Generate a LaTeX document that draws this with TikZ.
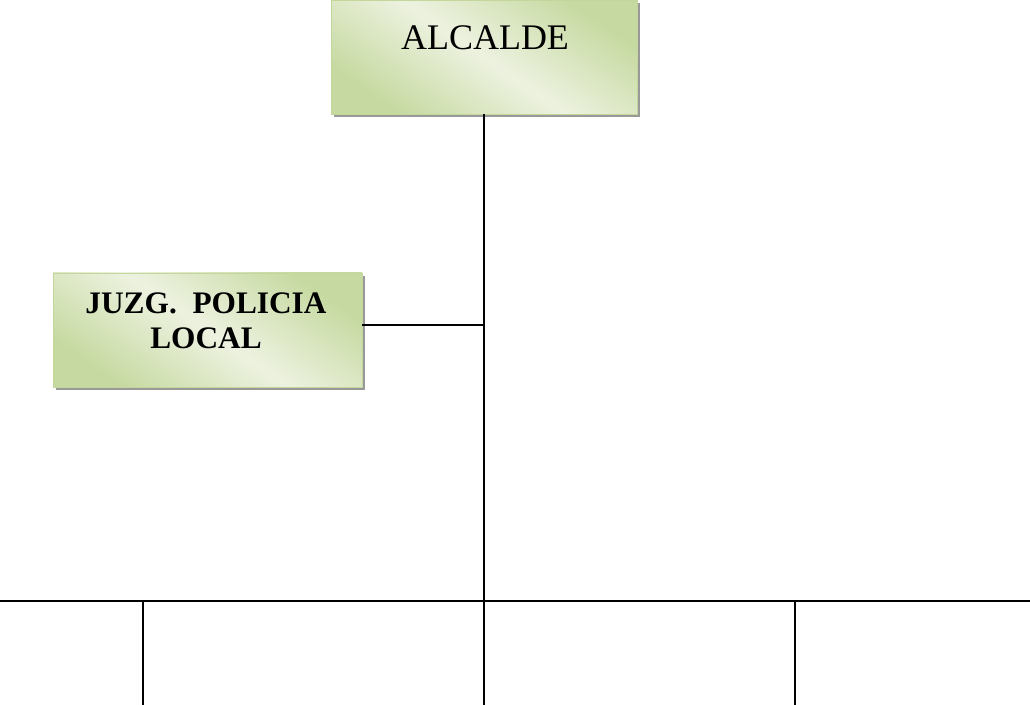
\documentclass[tikz,border=0pt]{standalone}
\usepackage{fontspec}
\setmainfont{Liberation Serif}
\usetikzlibrary{shadows}
\definecolor{olivedark}{HTML}{C6D9A0}
\definecolor{olivelight}{HTML}{EDF2E0}
\definecolor{oliveedge}{HTML}{C3D69B}
\tikzset{
  orgbox/.style={draw=oliveedge, line width=0.6pt, inner sep=0pt,
    left color=olivedark, right color=olivedark, middle color=olivelight,
    shading angle=-35,
    drop shadow={shadow xshift=2.2pt, shadow yshift=-2.2pt, fill=black!40, opacity=1}},
  conn/.style={line width=0.9pt, black},
}
\begin{document}
\begin{tikzpicture}[x=0.75pt,y=-0.75pt]
\useasboundingbox (0,0) rectangle (1030,705);
\node[orgbox, minimum width=229.5pt, minimum height=85.5pt] (alc) at (484,57) {};
\node[font=\fontsize{27}{31}\selectfont] (alct) at (485,38) {ALCALDE};
\node[orgbox, minimum width=231.75pt, minimum height=85.5pt] (juz) at (207.5,330) {};
\node[font=\fontsize{23.5}{26.5}\selectfont\bfseries, align=center] (juzt) at (206,321) {JUZG.\ \ POLICIA\\LOCAL};
\coordinate (mid) at (484,325);
\coordinate (hub) at (484,601);
\coordinate (hl) at (0,601);
\coordinate (hr) at (1030,601);
\coordinate (t1) at (143,601);
\coordinate (t3) at (795,601);
\coordinate (b1) at (143,705);
\coordinate (b2) at (484,705);
\coordinate (b3) at (795,705);
\draw[conn] (alc.south -| hub) -- (hub);
\draw[conn] (juz.east |- mid) -- (mid);
\draw[conn] (hl) -- (hr);
\draw[conn] (t1) -- (b1);
\draw[conn] (hub) -- (b2);
\draw[conn] (t3) -- (b3);
\end{tikzpicture}
\end{document}
